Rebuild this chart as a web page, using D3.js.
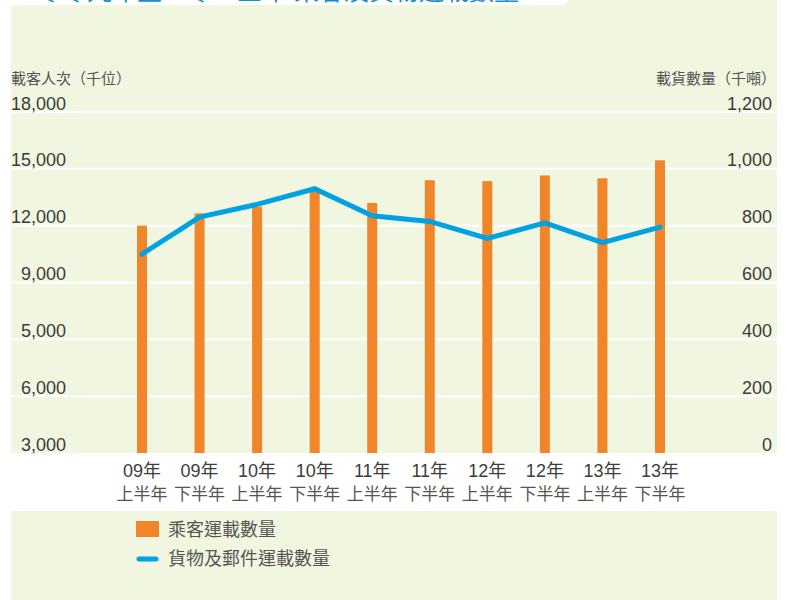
<!DOCTYPE html>
<html>
<head>
<meta charset="utf-8">
<script src="https://cdn.jsdelivr.net/npm/d3@7"></script>
<style>
  body { margin: 0; background: #fff; }
  svg { display: block; font-family: "Liberation Sans", "Noto Sans CJK TC", sans-serif; }
</style>
</head>
<body>
<svg id="chart" width="787" height="600"></svg>
<script>
var periods = ['09年上', '09年下', '10年上', '10年下', '11年上', '11年下', '12年上', '12年下', '13年上', '13年下']
var yearLabels = ['09年', '09年', '10年', '10年', '11年', '11年', '12年', '12年', '13年', '13年']
var halfLabels = ['上半年', '下半年', '上半年', '下半年', '上半年', '下半年', '上半年', '下半年', '上半年', '下半年']

// 乘客運載數量 (千位)
var passengers = [12000, 12650, 13000, 13950, 13200, 14400, 14350, 14650, 14500, 15450]
// 貨物及郵件運載數量 (千噸)
var cargo = [700, 830, 875, 930, 835, 815, 755, 810, 740, 795]

var leftTickValues = [18000, 15000, 12000, 9000, 6000, 3000, 0]
var leftTickLabels = ['18,000', '15,000', '12,000', '9,000', '5,000', '6,000', '3,000']
var rightTickValues = [1200, 1000, 800, 600, 400, 200, 0]

var BG_COLOR = '#f1f6e0',
	BAR_COLOR = '#f0852a',
	LINE_COLOR = '#00a2e2',
	TEXT_COLOR = '#3c3c3c',
	SOFT_TEXT = '#555'

var svg = d3.select('#chart')

var PLOT_TOP = 112, PLOT_BOTTOM = 453, LEFT = 11, RIGHT = 777

var x = d3.scalePoint().domain(periods).range([142, 660])
var yLeft = d3.scaleLinear().domain([0, 18000]).range([PLOT_BOTTOM, PLOT_TOP])
var yRight = d3.scaleLinear().domain([0, 1200]).range([PLOT_BOTTOM, PLOT_TOP])

// background panels
svg.append('rect')
	.attr('x', LEFT).attr('y', 0)
	.attr('width', RIGHT - LEFT).attr('height', 600)
	.attr('fill', BG_COLOR)

svg.append('rect')
	.attr('x', LEFT).attr('y', PLOT_BOTTOM)
	.attr('width', RIGHT - LEFT).attr('height', 58)
	.attr('fill', '#fff')

// title strip (mostly cut off at the top)
svg.append('path')
	.attr('d', 'M' + LEFT + ',0 L568,0 L565,5 L' + LEFT + ',5 Z')
	.attr('fill', '#fff')

svg.append('text')
	.text('二零零九年至二零一三年 乘客及貨物運載數量')
	.attr('x', 12).attr('y', 0)
	.attr('font-size', 25)
	.attr('fill', '#1a8ccf')

// gridlines
svg.append('g')
	.selectAll('line')
	.data(rightTickValues.filter(function(d){ return d > 0 }))
	.enter().append('line')
		.attr('x1', LEFT).attr('x2', RIGHT)
		.attr('y1', function(d){ return yRight(d) })
		.attr('y2', function(d){ return yRight(d) })
		.attr('stroke', '#fff')
		.attr('stroke-width', 2)

// left axis
var gLeft = svg.append('g')
	.attr('transform', 'translate(66,0)')
	.call(d3.axisLeft(yLeft)
		.tickValues(leftTickValues)
		.tickFormat(function(d, i){ return leftTickLabels[i] })
		.tickSize(0).tickPadding(0))

// right axis
var gRight = svg.append('g')
	.attr('transform', 'translate(772,0)')
	.call(d3.axisRight(yRight)
		.tickValues(rightTickValues)
		.tickFormat(d3.format(','))
		.tickSize(0).tickPadding(0))

gRight.selectAll('text').attr('text-anchor', 'end')

svg.selectAll('.domain').remove()
;[gLeft, gRight].forEach(function(g){
	g.attr('font-family', null).attr('font-size', null)
	g.selectAll('text')
		.attr('x', 0)
		.attr('dy', -3)
		.attr('font-size', 18)
		.attr('fill', TEXT_COLOR)
})

// axis titles
svg.append('text')
	.text('載客人次（千位）')
	.attr('x', LEFT).attr('y', 84)
	.attr('font-size', 15)
	.attr('fill', SOFT_TEXT)

svg.append('text')
	.text('載貨數量（千噸）')
	.attr('x', 776).attr('y', 84)
	.attr('text-anchor', 'end')
	.attr('font-size', 15)
	.attr('fill', SOFT_TEXT)

// bars
svg.append('g')
	.selectAll('rect')
	.data(passengers)
	.enter().append('rect')
		.attr('x', function(d, i){ return x(periods[i]) - 5 })
		.attr('width', 10)
		.attr('y', function(d){ return yLeft(d) })
		.attr('height', function(d){ return PLOT_BOTTOM - yLeft(d) })
		.attr('fill', BAR_COLOR)

// cargo line
var line = d3.line()
	.x(function(d, i){ return x(periods[i]) })
	.y(function(d){ return yRight(d) })

svg.append('path')
	.datum(cargo)
	.attr('d', line)
	.attr('fill', 'none')
	.attr('stroke', LINE_COLOR)
	.attr('stroke-width', 5)
	.attr('stroke-linecap', 'round')

// x labels
var xl = svg.append('g')
	.selectAll('g')
	.data(periods)
	.enter().append('g')
		.attr('transform', function(d){ return 'translate(' + x(d) + ',0)' })

xl.append('text')
	.text(function(d, i){ return yearLabels[i] })
	.attr('y', 477)
	.attr('text-anchor', 'middle')
	.attr('font-size', 18)
	.attr('fill', TEXT_COLOR)

xl.append('text')
	.text(function(d, i){ return halfLabels[i] })
	.attr('y', 500)
	.attr('text-anchor', 'middle')
	.attr('font-size', 17)
	.attr('fill', SOFT_TEXT)

// legend
var legend = svg.append('g')

legend.append('rect')
	.attr('x', 136).attr('y', 521)
	.attr('width', 23).attr('height', 16)
	.attr('fill', BAR_COLOR)

legend.append('line')
	.attr('x1', 139).attr('x2', 156)
	.attr('y1', 559).attr('y2', 559)
	.attr('stroke', LINE_COLOR)
	.attr('stroke-width', 5)
	.attr('stroke-linecap', 'round')

legend.append('text')
	.text('乘客運載數量')
	.attr('x', 168).attr('y', 536)
	.attr('font-size', 18)
	.attr('fill', SOFT_TEXT)

legend.append('text')
	.text('貨物及郵件運載數量')
	.attr('x', 168).attr('y', 565)
	.attr('font-size', 18)
	.attr('fill', SOFT_TEXT)
</script>
</body>
</html>
